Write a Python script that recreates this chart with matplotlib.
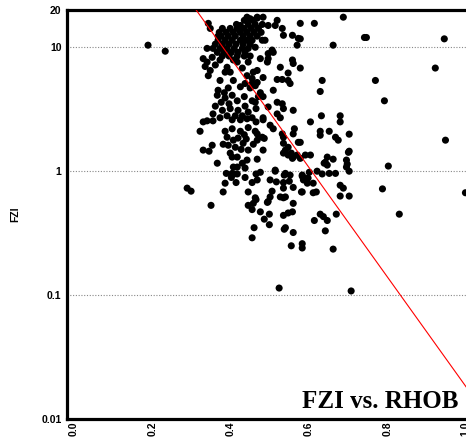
import numpy as np
import matplotlib
matplotlib.use("Agg")
import matplotlib.pyplot as plt

# RHOB (x) and FZI (y) values
# sparse points on the right / lower part
rhob_sparse = [0.688, 0.614, 0.578, 0.742, 0.747, 0.946, 0.662, 0.578, 0.923, 0.634,
               0.770, 0.793, 0.629, 0.578, 0.632, 0.680, 0.680, 0.604, 0.629, 0.629,
               0.652, 0.668, 0.675, 0.703, 0.949, 0.703, 0.578, 0.647, 0.662, 0.639,
               0.647, 0.696, 0.696, 0.621, 0.634, 0.652, 0.668, 0.703, 0.803, 0.604,
               0.586, 0.598, 0.596, 0.583, 0.611, 0.619, 0.680, 0.688, 0.680, 0.703,
               0.788, 1.000, 0.614, 0.629, 0.637, 0.647, 0.642, 0.670, 0.583, 0.583,
               0.662, 0.708, 0.831, 0.524]
fzi_sparse = [17.5, 15.6, 15.6, 12.0, 12.0, 11.7, 10.4, 11.7, 6.8, 5.4,
              5.4, 3.7, 4.4, 6.8, 2.8, 2.8, 2.5, 2.5, 2.1, 1.95,
              2.1, 1.88, 1.78, 1.99, 1.78, 1.45, 1.71, 1.30, 1.25, 1.16,
              1.12, 1.23, 1.08, 1.0, 0.95, 0.96, 0.96, 1.0, 1.10, 1.35,
              0.85, 0.88, 0.80, 0.68, 0.67, 0.68, 0.77, 0.73, 0.63, 0.63,
              0.72, 0.67, 0.40, 0.45, 0.43, 0.40, 0.33, 0.45, 0.26, 0.24,
              0.235, 0.108, 0.45, 0.114]

# lower middle band (FZI ~0.25 - 1.5)
rhob_mid = [0.458, 0.494, 0.560, 0.455, 0.476, 0.499, 0.535, 0.547, 0.558, 0.486,
            0.499, 0.460, 0.537, 0.560, 0.455, 0.555, 0.350, 0.445, 0.189, 0.233,
            0.289, 0.299, 0.366, 0.381, 0.445, 0.465, 0.496, 0.501, 0.506, 0.514,
            0.517, 0.537, 0.540, 0.550, 0.527, 0.540, 0.540, 0.581, 0.601, 0.583,
            0.588, 0.409, 0.417, 0.402, 0.389, 0.386, 0.414, 0.404, 0.437, 0.437,
            0.430, 0.417, 0.404, 0.465, 0.476, 0.468, 0.555]
fzi_mid = [0.55, 0.56, 0.55, 0.49, 0.47, 0.45, 0.44, 0.46, 0.47, 0.41,
           0.37, 0.35, 0.34, 0.32, 0.29, 0.25, 0.53, 0.53, 10.4, 9.3,
           0.73, 0.69, 1.16, 0.68, 0.68, 0.59, 0.57, 0.62, 0.69, 1.0,
           0.82, 0.93, 0.96, 0.83, 0.62, 0.62, 0.35, 0.68, 0.98, 0.93,
           0.88, 0.95, 0.95, 0.89, 0.96, 0.80, 0.81, 0.96, 0.89, 1.06,
           1.16, 1.08, 1.30, 0.95, 0.98, 0.85, 1.40]

# band FZI ~0.6 - 3.3, right of the main cluster
rhob_band = [0.465, 0.496, 0.535, 0.519, 0.560, 0.455, 0.465, 0.483, 0.483, 0.501,
             0.509, 0.463, 0.468, 0.481, 0.468, 0.486, 0.458, 0.483, 0.468, 0.527,
             0.532, 0.535, 0.535, 0.547, 0.540, 0.535, 0.547, 0.560, 0.570, 0.558,
             0.578, 0.591, 0.563, 0.560, 0.573, 0.701, 0.642, 0.698, 0.514, 0.552,
             0.455, 0.501, 0.535, 0.583, 0.611, 0.560, 0.535, 0.463, 0.535]
fzi_band = [3.2, 3.3, 3.2, 2.9, 3.1, 2.7, 2.5, 2.6, 2.7, 2.35,
            2.2, 2.1, 2.0, 1.88, 1.78, 1.84, 1.65, 1.48, 1.25, 2.7,
            2.0, 1.88, 1.68, 1.56, 1.48, 1.40, 1.35, 1.30, 1.35, 1.27,
            1.27, 1.35, 2.2, 2.0, 1.71, 1.42, 1.18, 1.14, 1.02, 0.93,
            0.81, 0.85, 0.81, 0.91, 0.80, 0.74, 0.73, 0.61, 0.61]

# upper right edge of the main cluster (FZI ~3.5 - 17.5)
rhob_upper = [0.483, 0.468, 0.519, 0.496, 0.514, 0.532, 0.535, 0.558, 0.573, 0.570,
              0.488, 0.481, 0.463, 0.506, 0.509, 0.496, 0.476, 0.496, 0.494, 0.558,
              0.560, 0.527, 0.547, 0.468, 0.458, 0.483, 0.519, 0.532, 0.547, 0.552,
              0.468, 0.509, 0.476, 0.455, 0.519, 0.532, 0.471, 0.483, 0.455, 0.463]
fzi_upper = [17.5, 17.2, 16.5, 15.0, 15.0, 14.2, 12.5, 12.5, 11.8, 10.4,
             11.4, 11.4, 10.0, 9.5, 9.1, 8.9, 8.1, 8.1, 7.6, 7.9,
             7.4, 6.9, 6.2, 6.5, 6.3, 5.7, 5.5, 5.5, 5.4, 5.1,
             5.2, 4.5, 4.3, 5.1, 3.6, 3.5, 4.0, 4.0, 3.7, 3.6]

# dense core of the cluster
rhob_core = [0.442, 0.450, 0.468, 0.435, 0.458, 0.415, 0.425, 0.445, 0.463, 0.481,
             0.379, 0.399, 0.417, 0.435, 0.453, 0.471,
             0.371, 0.389, 0.407, 0.425, 0.442, 0.460, 0.478,
             0.368, 0.376, 0.394, 0.412, 0.432, 0.450, 0.468,
             0.368, 0.386, 0.404, 0.425, 0.440, 0.455,
             0.361, 0.379, 0.396, 0.414, 0.432, 0.450,
             0.355, 0.373, 0.391, 0.409, 0.430, 0.445,
             0.366, 0.384, 0.402, 0.419, 0.437,
             0.379, 0.396, 0.417, 0.435, 0.450,
             0.343, 0.348, 0.340]
fzi_core = [17.5, 17.0, 17.5, 16.5, 16.5, 15.3, 15.0, 15.3, 15.3, 15.3,
            14.2, 14.2, 14.2, 14.2, 14.2, 14.2,
            13.2, 13.2, 13.2, 13.2, 13.2, 13.2, 13.2,
            12.3, 12.3, 12.3, 12.3, 12.3, 12.3, 12.3,
            11.4, 11.4, 11.4, 11.4, 11.4, 11.4,
            10.6, 10.6, 10.6, 10.6, 10.6, 10.6,
            9.8, 9.8, 9.8, 9.8, 9.8, 9.8,
            9.1, 9.1, 9.1, 9.1, 9.1,
            8.5, 8.5, 8.5, 8.5, 8.5,
            15.6, 14.2, 9.8]

# left / lower part of the cluster (FZI ~1 - 8)
rhob_low = [0.330, 0.340, 0.353, 0.335, 0.348, 0.361, 0.373, 0.391, 0.399, 0.417,
            0.430, 0.445, 0.343, 0.373, 0.386, 0.407,
            0.442, 0.455, 0.437, 0.425, 0.450, 0.463, 0.407, 0.394, 0.368, 0.384,
            0.366, 0.386, 0.404, 0.376, 0.396, 0.417, 0.435, 0.361, 0.379, 0.399,
            0.419, 0.437, 0.355, 0.391, 0.412, 0.430, 0.445, 0.404, 0.425, 0.442,
            0.330, 0.340, 0.355, 0.373,
            0.322, 0.330, 0.353, 0.345, 0.381, 0.391, 0.407, 0.419, 0.432, 0.394,
            0.412, 0.427, 0.440, 0.399, 0.417, 0.386, 0.404, 0.425, 0.445, 0.435,
            0.445, 0.442, 0.407]
fzi_low = [8.1, 7.6, 8.3, 7.0, 6.5, 7.2, 7.9, 6.9, 6.3, 7.6,
           6.8, 7.6, 5.9, 5.4, 6.3, 7.9,
           5.9, 5.6, 5.1, 4.8, 4.7, 4.9, 5.4, 4.7, 4.5, 4.3,
           4.1, 3.9, 4.1, 3.6, 3.5, 3.7, 4.0, 3.35, 3.1, 3.2,
           3.1, 3.35, 2.9, 2.8, 2.8, 2.8, 3.0, 2.6, 2.6, 2.65,
           2.5, 2.55, 2.55, 2.7,
           2.1, 1.48, 1.62, 1.45, 1.65, 1.88, 1.78, 1.85, 1.68, 1.62,
           1.56, 1.5, 1.82, 1.40, 1.30, 2.1, 2.2, 2.1, 2.25, 1.97,
           1.48, 1.23, 1.08]

rhob = rhob_sparse + rhob_mid + rhob_band + rhob_upper + rhob_core + rhob_low
fzi = fzi_sparse + fzi_mid + fzi_band + fzi_upper + fzi_core + fzi_low

# exponential trend line: log10(FZI) = a + b * RHOB
fit_a = 2.677
fit_b = -4.41

y_ticks = [0.01, 0.1, 1, 10, 20]
y_tick_labels = ["0.01", "0.1", "1", "10", "20"]
x_ticks = [0.0, 0.2, 0.4, 0.6, 0.8, 1.0]
x_tick_labels = ["0.0", "0.2", "0.4", "0.6", "0.8", "1.0"]

fig = plt.figure(figsize=(4.66, 4.37), dpi=100)
ax = fig.add_axes([67 / 466, 18 / 437, 418 / 466, 409 / 437])

ax.set_yscale("log")
ax.set_xlim(-0.018, 1.05)
ax.set_ylim(0.01, 20)

ax.yaxis.grid(True, which="major", ls=(0, (1, 1.5)), color="#888888", lw=0.8)
ax.set_axisbelow(True)

ax.scatter(rhob, fzi, s=26, color="black", edgecolors="none", zorder=3)

xs = np.linspace(0.0, 1.05, 200)
ax.plot(xs, 10 ** (fit_a + fit_b * xs), color="red", lw=0.8, zorder=4)

ax.set_yticks(y_ticks)
ax.set_yticklabels(y_tick_labels)
ax.yaxis.set_minor_locator(matplotlib.ticker.NullLocator())
ax.set_xticks(x_ticks)
ax.set_xticklabels(x_tick_labels, rotation=90)
ax.tick_params(axis="y", length=0, pad=4, labelsize=7.5)
ax.tick_params(axis="x", length=0, pad=1.5, labelsize=7.5)
for lbl in ax.get_xticklabels() + ax.get_yticklabels():
    lbl.set_fontweight("bold")
    lbl.set_family("Liberation Sans")

for side in ["left", "top", "bottom", "right"]:
    ax.spines[side].set_linewidth(2.3)

ax.set_ylabel("FZI", fontsize=7.5, fontweight="bold", family="Liberation Sans", labelpad=15)

fig.text(459 / 466, (437 - 408) / 437, "FZI vs. RHOB", ha="right", va="baseline",
         family="Liberation Serif", fontweight="bold", fontsize=18)

fig.savefig("out.png", dpi=100)
